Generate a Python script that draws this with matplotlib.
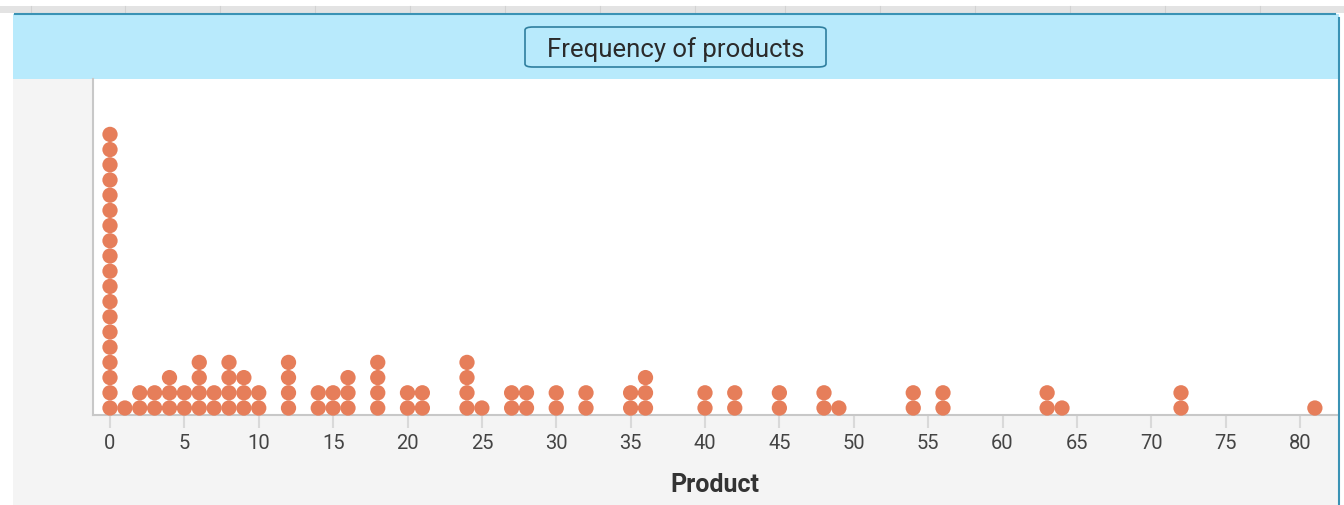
import matplotlib
matplotlib.use("Agg")
import matplotlib.pyplot as plt
from matplotlib.patches import Rectangle, FancyBboxPatch
from matplotlib.lines import Line2D

# ---- data ----
products = [0, 1, 2, 3, 4, 5, 6, 7, 8, 9, 10, 12, 14, 15, 16, 18, 20, 21, 24, 25,
            27, 28, 30, 32, 35, 36, 40, 42, 45, 48, 49, 54, 56, 63, 64, 72, 81]
counts = [19, 1, 2, 2, 3, 2, 4, 2, 4, 3, 2, 4, 2, 2, 3, 4, 2, 2, 4, 1,
          2, 2, 2, 2, 2, 3, 2, 2, 2, 2, 1, 2, 2, 2, 1, 2, 1]
tick_values = list(range(0, 85, 5))
title = "Frequency of products"
xlabel = "Product"

W, H = 1344, 506
fig = plt.figure(figsize=(W / 100, H / 100), dpi=100)
fig.patch.set_facecolor("white")

def fx(px):
    return px / W

def fy(py):
    return 1 - py / H

# top gray strip
fig.patches.append(Rectangle((0, fy(14)), 1, (14 - 7) / H, transform=fig.transFigure,
                             facecolor="#e3e3e3", edgecolor="none", zorder=0))
for lx in [31, 125, 220, 315, 410, 505, 600, 695, 785, 880, 975, 1070, 1165, 1260]:
    fig.lines.append(Line2D([fx(lx), fx(lx)], [fy(14), fy(7)], transform=fig.transFigure,
                            color="#d2d2d2", lw=0.8, zorder=1))

# panel gray background
fig.patches.append(Rectangle((fx(13), 0), fx(1339) - fx(13), fy(80), transform=fig.transFigure,
                             facecolor="#f4f4f4", edgecolor="none", zorder=1))
# blue header (square bottom corners)
fig.patches.append(Rectangle((fx(13), fy(80)), fx(1339) - fx(13), (80 - 15) / H,
                             transform=fig.transFigure, facecolor="#b8eafc",
                             edgecolor="none", zorder=2))
# panel border lines (top + right)
fig.lines.append(Line2D([fx(15), fx(1335)], [fy(15), fy(15)], transform=fig.transFigure,
                        color="#3a92b4", lw=1.5, zorder=3))
fig.lines.append(Line2D([fx(1339), fx(1339)], [fy(19), 0], transform=fig.transFigure,
                        color="#3a92b4", lw=1.5, zorder=3))

# title box
fig.patches.append(FancyBboxPatch((fx(525), fy(68)), fx(826) - fx(525), (68 - 28) / H,
                                  boxstyle="round,pad=0,rounding_size=0.006",
                                  transform=fig.transFigure, facecolor="#b8eafc",
                                  edgecolor="#2f7f9f", lw=1.2, zorder=4))
fig.text(fx(675.5), fy(49.5), title, ha="center", va="center", fontsize=18.5,
         color="#2b2b2b", family="Roboto", zorder=5)

# axes
ax_top, ax_bot = 80, 415.5
ax = fig.add_axes([fx(92.5), fy(ax_bot), fx(1338) - fx(92.5), (ax_bot - ax_top) / H])
ax.set_facecolor("white")
ax.set_zorder(3)

xs, ys = [], []
for p, c in zip(products, counts):
    for k in range(c):
        xs.append(p)
        ys.append(k)
ax.scatter(xs, ys, s=11.0 ** 2, color="#e67e5a", edgecolors="none", zorder=3, clip_on=False)

x0 = (92.5 - 110) / 14.875
x1 = (1338 - 110) / 14.875
ax.set_xlim(x0, x1)
step = 15.2
ax.set_ylim(-(ax_bot - 409) / step, (409 - ax_top) / step)
ax.set_yticks([])
ax.set_xticks(tick_values)
ax.set_xticklabels([str(v) for v in tick_values], family="Roboto", fontsize=14.5, color="#444444")
ax.tick_params(axis="x", length=9, width=1.5, color="#d9d9d9", pad=4)
for s in ["top", "right"]:
    ax.spines[s].set_visible(False)
for s in ["left", "bottom"]:
    ax.spines[s].set_color("#c8c8c8")
    ax.spines[s].set_linewidth(1.5)
ax.set_xlabel(xlabel, family="Roboto", fontsize=18, fontweight="bold", color="#333333", labelpad=14.5)

fig.savefig("out.png", dpi=100, facecolor=fig.get_facecolor())
